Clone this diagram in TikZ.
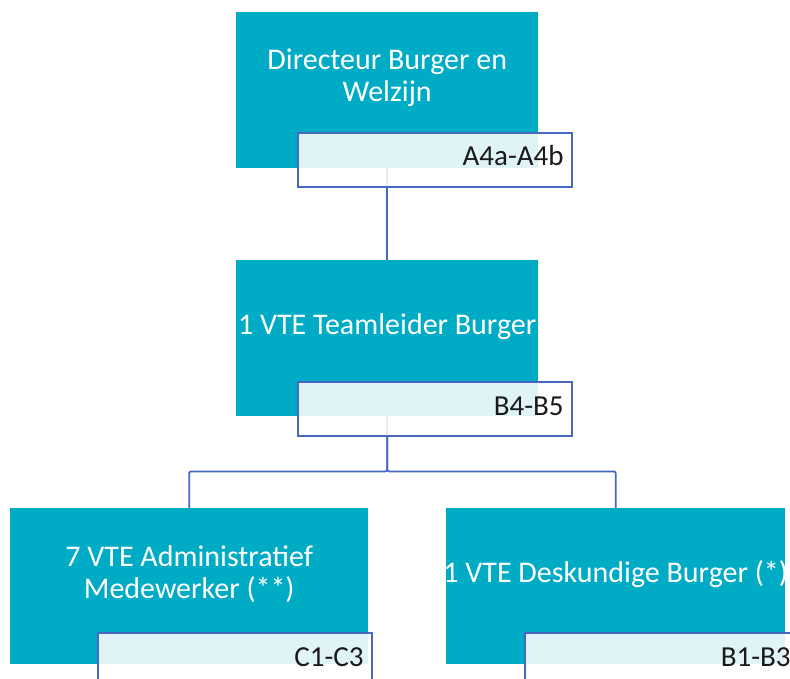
\documentclass[tikz,border=0pt]{standalone}
\usepackage{fontspec}
\setmainfont{Carlito}
\usepackage{xcolor}
\usepackage{tikz}
\usetikzlibrary{positioning}

\definecolor{unitteal}{HTML}{00ABC5}
\definecolor{linkblue}{HTML}{4668C0}
\definecolor{codegray}{HTML}{1A1A1A}

\tikzset{
	unit/.style={fill=unitteal, draw=none, anchor=north west, inner sep=0pt,
		minimum width=#1, minimum height=156pt},
	unittext/.style={text=white, align=center, inner sep=0pt,
		font=\fontsize{30}{32}\selectfont},
	codebox/.style={fill=white, fill opacity=0.88, draw=linkblue, line width=1.8pt,
		anchor=north west, inner sep=0pt, minimum width=274pt, minimum height=54pt},
	codetext/.style={text=codegray, anchor=base east, inner sep=0pt,
		font=\fontsize{29}{32}\selectfont},
	link/.style={draw=linkblue, line width=1.8pt, rounded corners=2pt}
}

\begin{document}
\begin{tikzpicture}[x=1pt, y=-1pt]
		\useasboundingbox (0,0) rectangle (790,679);

		% Units
		\node[unit=302pt] (dir) at (236,12) {};
		\node[unit=302pt] (tl) at (236,260) {};
		\node[unit=358pt] (adm) at (10,508) {};
		\node[unit=339pt] (desk) at (446,508) {};

		% Links
		\draw[link] (dir.south) -- (tl.north);
		\draw[link] (tl.south) -- ++(0,55) -| (adm.north);
		\draw[link] (tl.south) -- ++(0,55) -| (desk.north);

		% Grade boxes
		\node[codebox] (dirlbl) at (297,132) {};
		\node[codebox] (tllbl) at (297,381) {};
		\node[codebox] (admlbl) at (97,632) {};
		\node[codebox] (desklbl) at (524,632) {};

		% Unit names
		\node[unittext] (dirname) at ([yshift=12pt]dir.center) {Directeur Burger en\\Welzijn};
		\node[unittext] (tlname) at ([yshift=12pt]tl.center) {1 VTE Teamleider Burger};
		\node[unittext] (admname) at ([yshift=12pt]adm.center) {7 VTE Administratief\\Medewerker (**)};
		\node[unittext] (deskname) at ([yshift=12pt]desk.center) {1 VTE Deskundige Burger (*)};

		% Grades
		\node[codetext] (dircode) at ([shift={(-9,34)}]dirlbl.north east) {A4a-A4b};
		\node[codetext] (tlcode) at ([shift={(-9,34)}]tllbl.north east) {B4-B5};
		\node[codetext] (admcode) at ([shift={(-9,34)}]admlbl.north east) {C1-C3};
		\node[codetext] (deskcode) at ([shift={(-9,34)}]desklbl.north east) {B1-B3};
	\end{tikzpicture}
\end{document}
